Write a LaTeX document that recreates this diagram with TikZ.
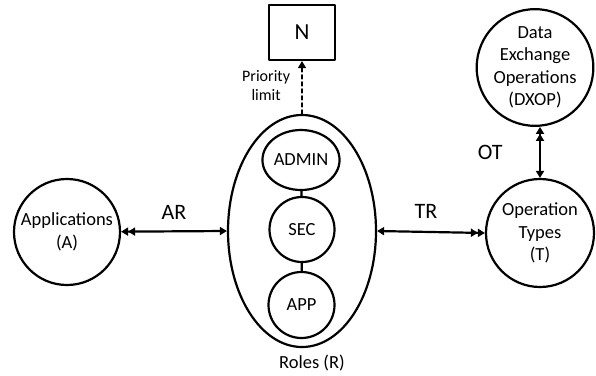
\documentclass[tikz,border=0pt]{standalone}
\usepackage{fontspec}
\setmainfont{Carlito}
\usetikzlibrary{arrows.meta}
\usetikzlibrary{shapes.geometric}

\begin{document}
\begin{tikzpicture}[x=1pt,y=-1pt,line cap=round,line join=round,>={Triangle[length=7pt,width=8pt]},
 ent/.style={draw,circle,line width=2.2pt,inner sep=0pt,align=center,font=\fontsize{18.5}{22.5}\selectfont},
 rol/.style={draw,ellipse,line width=2.2pt,inner sep=0pt,font=\fontsize{18.5}{22.5}\selectfont},
 rel/.style={line width=2.2pt},
 lab/.style={font=\fontsize{22}{24}\selectfont}]
\useasboundingbox (0,0) rectangle (596,375);
% entities
\node[ent,minimum size=106pt] (A) at (67,232) {Applications\\(A)};
\node[draw,ellipse,line width=2.2pt,minimum width=148pt,minimum height=232pt] (R) at (302,231) {};
\node[rol,minimum width=65pt,minimum height=60pt] (admin) at (301,160) {ADMIN};
\node[rol,minimum width=65pt,minimum height=65pt] (sec) at (302,229.5) {SEC};
\node[rol,minimum width=66pt,minimum height=66pt] (app) at (301.5,305) {APP};
\node[draw,rectangle,line width=2.2pt,minimum width=66pt,minimum height=55pt,font=\fontsize{23}{25}\selectfont] (N) at (302,32.5) {N};
\node[ent,minimum size=108pt] (T) at (540,233) {Operation\\Types\\(T)};
\node[ent,minimum size=99pt] (DX) at (535,67.5) {Data\\Exchange\\Operations\\(DXOP)};
\node[font=\fontsize{18.5}{22}\selectfont] at ([xshift=10pt,yshift=-15pt]R.south) {Roles (R)};
% role chain
\draw[rel] (admin) -- (sec);
\draw[rel] (sec) -- (app);
% relations
\draw[rel,<<->] (A) -- node[lab,midway,above=7pt] {AR} (R.west);
\draw[rel,<->>] (R.east) -- node[lab,midway,above=9pt,xshift=-5pt] {TR} (T.west);
\draw[rel,<<->] (T.north |- DX.south) -- node[lab,midway,left=33pt] {OT} (T.north);
\draw[line width=1.3pt,dash pattern=on 4pt off 3pt,->] (R.north) -- node[midway,left=8pt,yshift=2pt,align=center,font=\fontsize{16}{19}\selectfont] {Priority\\limit} (N.south);
\end{tikzpicture}
\end{document}
